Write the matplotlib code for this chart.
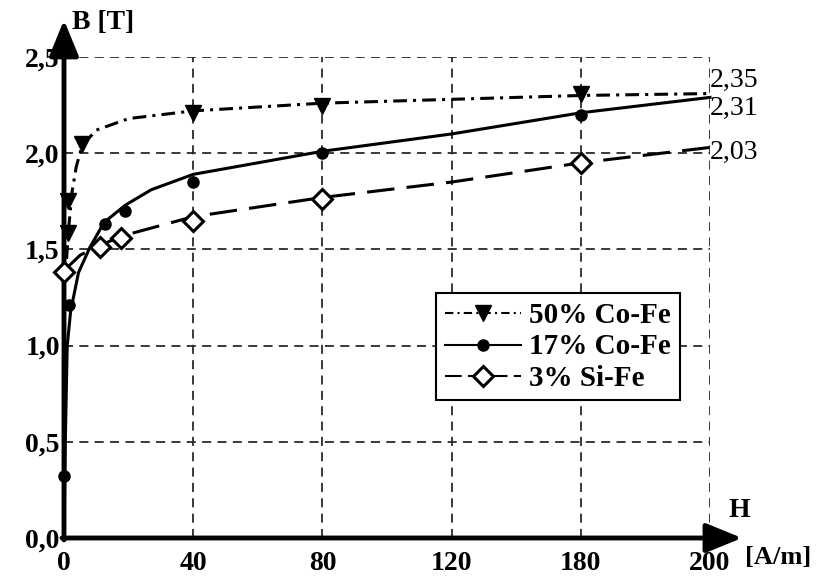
import numpy as np
import matplotlib
matplotlib.use("Agg")
import matplotlib.pyplot as plt

plt.rcParams['font.family'] = ['Liberation Serif', 'DejaVu Serif']

# ---------------- data
# x axis is broken: equal spacing between these tick values
h_ticks = [0, 40, 80, 120, 180, 200]
h_ticklabels = ["0", "40", "80", "120", "180", "200"]
b_ticks = [0.0, 0.5, 1.0, 1.5, 2.0, 2.5]
b_ticklabels = ["0,0", "0,5", "1,0", "1,5", "2,0", "2,5"]

# measured points (markers)
h_co50 = [1.2, 1.3, 5.6, 40, 80, 180]
b_co50 = [1.585, 1.75, 2.05, 2.21, 2.245, 2.31]
h_co17 = [0, 1.6, 12.7, 18.9, 40, 80, 180]
b_co17 = [0.32, 1.21, 1.63, 1.70, 1.85, 2.00, 2.20]
h_si3 = [0, 11.2, 17.7, 40, 80, 180]
b_si3 = [1.38, 1.51, 1.56, 1.65, 1.76, 1.95]

# fitted curves (traced)
hc_co50 = [0.8, 1.5, 2.5, 3.8, 5.6, 10, 20, 40, 80, 120, 180, 200]
bc_co50 = [1.45, 1.62, 1.80, 1.93, 2.04, 2.12, 2.18, 2.22, 2.26, 2.28, 2.30, 2.31]
hc_co17 = [0, 0.4, 1.0, 2.0, 2.8, 4.5, 8, 12.4, 19, 27, 40, 80, 120, 180, 200]
bc_co17 = [0.0, 0.5, 1.0, 1.17, 1.24, 1.38, 1.51, 1.64, 1.73, 1.81, 1.89, 2.01, 2.10, 2.21, 2.29]
hc_si3 = [0, 5, 11, 18, 40, 80, 120, 180, 200]
bc_si3 = [1.39, 1.47, 1.52, 1.57, 1.67, 1.77, 1.85, 1.95, 2.03]

end_labels = ["2,35", "2,31", "2,03"]
end_label_y = [2.38, 2.235, 2.006]

legend_labels = ["50% Co-Fe", "17% Co-Fe", "3% Si-Fe"]

#---------------- piecewise x scale
pos = np.arange(len(h_ticks), dtype=float)
def fwd(x):
    return np.interp(x, h_ticks, pos)
def inv(p):
    return np.interp(p, pos, h_ticks)

fig = plt.figure(figsize=(8.17, 5.77), dpi=100)
ax = fig.add_axes([64/817, 39/577, 646/817, 481/577])
ax.set_xscale('function', functions=(fwd, inv))
ax.set_xlim(0, 200)
ax.set_ylim(0, 2.5)

# grid
ax.set_xticks(h_ticks)
ax.set_xticklabels(h_ticklabels)
ax.set_yticks(b_ticks)
ax.set_yticklabels(b_ticklabels)
ax.grid(True, color='#2a2a2a', lw=1.3, linestyle=(0, (5, 3.5)), zorder=0)
for sp in ax.spines.values():
    sp.set_visible(False)
ax.tick_params(length=0, labelsize=20)
ax.tick_params(axis='x', pad=9)
ax.tick_params(axis='y', pad=3)
for lab in ax.get_xticklabels() + ax.get_yticklabels():
    lab.set_fontweight('bold')

# curves
ax.plot(hc_co50, bc_co50, color='black', lw=2.2, linestyle=(0, (4.5, 2.0, 1.0, 2.0)), zorder=3, clip_on=False)
ax.plot(hc_co17, bc_co17, color='black', lw=2.2, linestyle='-', zorder=3, clip_on=False)
ax.plot(hc_si3, bc_si3, color='black', lw=2.2, linestyle=(0, (9, 4)), zorder=3, clip_on=False)

# markers
ax.plot(h_co50, b_co50, 'v', color='black', ms=11, zorder=4, clip_on=False)
ax.plot(h_co17, b_co17, 'o', color='black', ms=8, zorder=4, clip_on=False)
ax.plot(h_si3, b_si3, 'D', mfc='white', mec='black', mew=2.2, ms=10, zorder=4, clip_on=False)

# legend handles
hl1, = ax.plot([], [], color='black', lw=1.5, linestyle=(0, (4, 2, 1, 2)), marker='v', ms=11)
hl2, = ax.plot([], [], color='black', lw=1.5, linestyle='-', marker='o', ms=8)
hl3, = ax.plot([], [], color='black', lw=1.5, linestyle=(0, (8, 3)), marker='D', mfc='white', mew=2.2, ms=10)
leg = ax.legend([hl1, hl2, hl3], legend_labels, loc='upper left', bbox_to_anchor=(0.576, 0.509),
                frameon=True, fancybox=False, edgecolor='black', framealpha=1,
                prop={'weight': 'bold', 'size': 21}, handlelength=2.6, handletextpad=0.3,
                borderpad=0.3, labelspacing=0.15, borderaxespad=0, handleheight=0.6)
leg.get_frame().set_linewidth(1.5)
leg.set_zorder(5)

# axis arrows
arrow = dict(arrowstyle='-|>,head_width=0.45,head_length=1.1', color='black', lw=3.5,
             mutation_scale=20, shrinkA=0, shrinkB=0)
ax.annotate('', xy=(0, 1.077), xytext=(0, -0.004), xycoords='axes fraction',
            textcoords='axes fraction', arrowprops=arrow, annotation_clip=False)
ax.annotate('', xy=(1.0495, 0), xytext=(-0.003, 0), xycoords='axes fraction',
            textcoords='axes fraction', arrowprops=arrow, annotation_clip=False)

# axis titles
ax.text(0.012, 1.072, "B [T]", transform=ax.transAxes, fontsize=20, fontweight='bold',
        ha='left', va='center')
ax.text(1.045, 0.058, "H", transform=ax.transAxes, fontsize=20, fontweight='bold',
        ha='center', va='center')
ax.text(1.054, -0.04, "[A/m]", transform=ax.transAxes, fontsize=19, fontweight='bold',
        ha='left', va='center')

# end values
for lab, y in zip(end_labels, end_label_y):
    ax.text(201, y, lab, fontsize=20, ha='left', va='center', clip_on=False)

fig.savefig("out.png", dpi=100)
